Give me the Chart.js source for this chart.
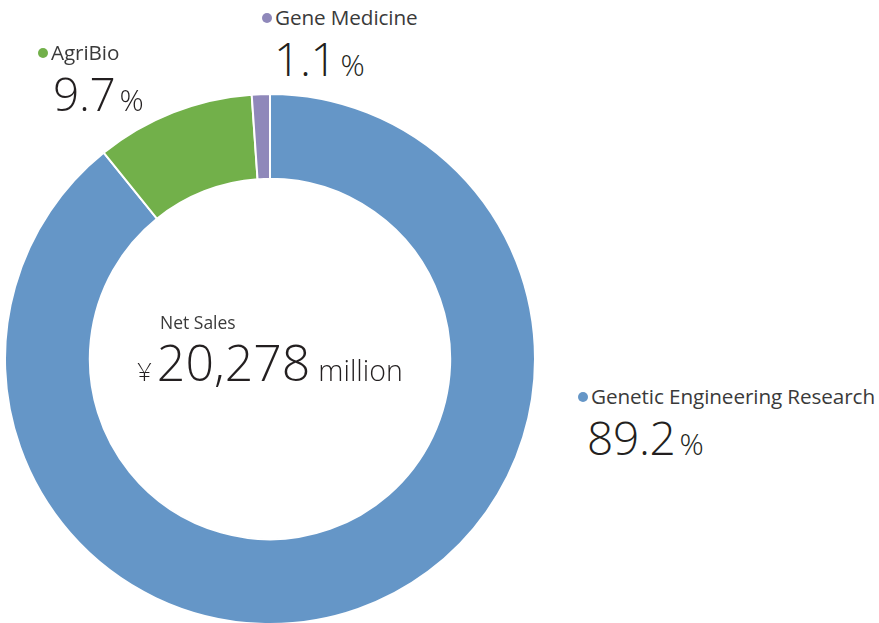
<!DOCTYPE html>
<html>
<head>
<meta charset="utf-8">
<script src="https://cdn.jsdelivr.net/npm/chart.js@4/dist/chart.umd.min.js"></script>
<style>
  html, body { margin: 0; padding: 0; background: #fff; width: 879px; height: 623px; overflow: hidden; }
  body { position: relative; font-family: "Open Sans", "Noto Sans", sans-serif; color: #231f20; }
  #wrap { position: absolute; left: 4px; top: 93px; width: 532px; height: 532px; }
  .lbl { position: absolute; white-space: nowrap; }
  .name { font-size: 20.7px; line-height: 1; color: #3a3a3a; font-weight: 400; letter-spacing: -0.1px; }
  .dot { display: inline-block; width: 10px; height: 10px; border-radius: 50%; margin-right: 3px; vertical-align: 2px; }
  .val { font-size: 46px; line-height: 1; font-weight: 300; margin-top: 7px; letter-spacing: -0.3px; }
  .pct { font-size: 30px; font-weight: 300; margin-left: 4px; }
  #center { position: absolute; left: 137px; top: 314px; white-space: nowrap; }
  #center .t { font-size: 17.5px; margin-left: 23px; color: #3a3a3a; line-height: 1; }
  #center .big { font-size: 50px; font-weight: 300; line-height: 1; margin-top: 5px; }
  #center .yen { font-size: 26px; margin-right: 5px; }
  #center .unit { font-size: 28.5px; margin-left: 8px; }
</style>
</head>
<body>
<div id="wrap"><canvas id="c"></canvas></div>
<div id="center">
  <div class="t" id="ctitle"></div>
  <div class="big"><span class="yen">¥</span><span id="ctotal"></span><span class="unit" id="cunit"></span></div>
</div>
<div class="lbl" id="l0" style="left:578px; top:386px;"></div>
<div class="lbl" id="l1" style="left:38px; top:42px;"></div>
<div class="lbl" id="l2" style="left:262px; top:7px;"></div>
<script>
const categories = ["Genetic Engineering Research", "AgriBio", "Gene Medicine"];
const shares = [89.2, 9.7, 1.1];
const colors = ["#6596c7", "#72b04a", "#8f88ba"];
const centerTitle = "Net Sales";
const netSales = "20,278";
const netSalesUnit = "million";

document.getElementById('ctitle').textContent = centerTitle;
document.getElementById('ctotal').textContent = netSales;
document.getElementById('cunit').textContent = netSalesUnit;

categories.forEach((c, i) => {
  const el = document.getElementById('l' + i);
  el.innerHTML = '<div class="name"><span class="dot" style="background:' + colors[i] + '"></span></div>' +
                 '<div class="val"><span class="num"></span><span class="pct">%</span></div>';
  el.querySelector('.name').appendChild(document.createTextNode(c));
  el.querySelector('.num').textContent = shares[i].toFixed(1);
  el.querySelector('.val').style.marginLeft = (i === 0 ? 9 : (i === 1 ? 15 : 12)) + 'px';
});

new Chart(document.getElementById('c'), {
  type: 'doughnut',
  data: {
    labels: categories,
    datasets: [{
      data: shares,
      backgroundColor: colors,
      borderColor: '#ffffff',
      borderWidth: 2,
      hoverOffset: 0
    }]
  },
  options: {
    responsive: true,
    maintainAspectRatio: false,
    animation: false,
    cutout: '68%',
    rotation: 0,
    layout: { padding: 0 },
    plugins: { legend: { display: false }, tooltip: { enabled: false } }
  }
});
</script>
</body>
</html>
